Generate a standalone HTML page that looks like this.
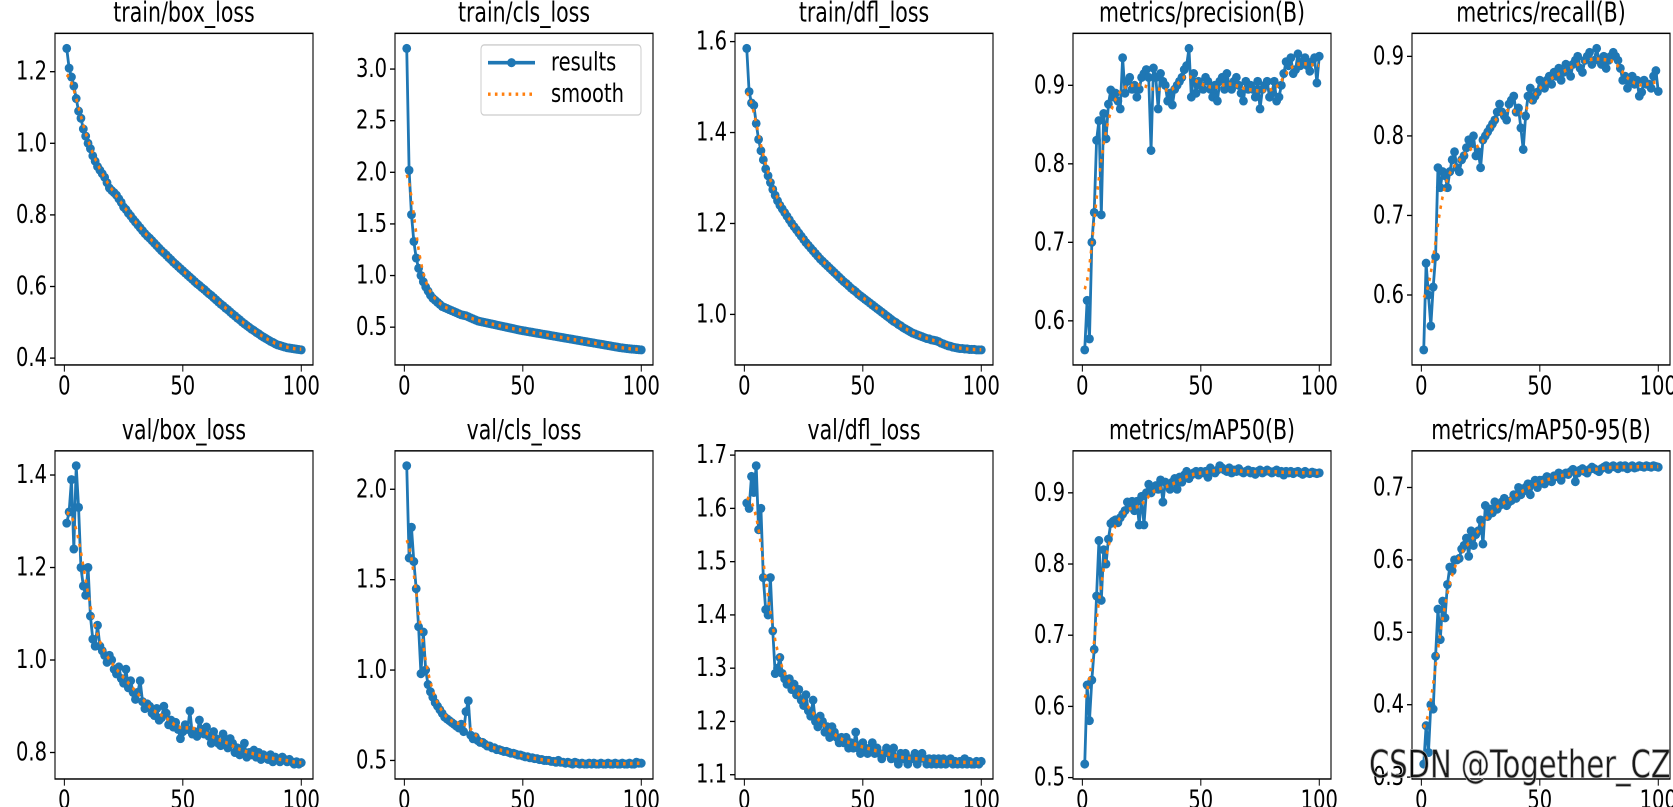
<!DOCTYPE html>
<html><head><meta charset="utf-8"><style>
html,body{margin:0;padding:0;background:#fff;}
svg{display:block;}
text{font-family:"DejaVu Sans","Liberation Sans",sans-serif;fill:#000;}
</style></head><body>
<svg id="fig" width="1673" height="807" viewBox="0 0 1673 605" preserveAspectRatio="none" xmlns="http://www.w3.org/2000/svg"></svg>
<script>
const titles=["train/box_loss","train/cls_loss","train/dfl_loss","metrics/precision(B)","metrics/recall(B)","val/box_loss","val/cls_loss","val/dfl_loss","metrics/mAP50(B)","metrics/mAP50-95(B)"];
const xTicks=[0,50,100];
const yTicks0=[0.4,0.6,0.8,1.0,1.2];
const yTicks1=[0.5,1.0,1.5,2.0,2.5,3.0];
const yTicks2=[1.0,1.2,1.4,1.6];
const yTicks3=[0.6,0.7,0.8,0.9];
const yTicks4=[0.6,0.7,0.8,0.9];
const yTicks5=[0.8,1.0,1.2,1.4];
const yTicks6=[0.5,1.0,1.5,2.0];
const yTicks7=[1.1,1.2,1.3,1.4,1.5,1.6,1.7];
const yTicks8=[0.5,0.6,0.7,0.8,0.9];
const yTicks9=[0.3,0.4,0.5,0.6,0.7];
const trainBox=[1.265,1.21,1.185,1.16,1.125,1.09,1.07,1.04,1.02,1.00,
0.985,0.965,0.95,0.935,0.925,0.915,0.905,0.89,0.875,0.868,
0.862,0.855,0.845,0.835,0.822,0.815,0.805,0.797,0.788,0.78,
0.772,0.764,0.756,0.748,0.741,0.735,0.728,0.721,0.714,0.707,
0.70,0.694,0.688,0.681,0.675,0.668,0.662,0.656,0.65,0.644,
0.638,0.632,0.626,0.62,0.614,0.608,0.603,0.597,0.592,0.586,
0.58,0.575,0.569,0.563,0.557,0.551,0.546,0.54,0.535,0.529,
0.523,0.518,0.512,0.507,0.501,0.496,0.491,0.486,0.481,0.477,
0.472,0.468,0.463,0.459,0.455,0.451,0.447,0.444,0.44,0.437,
0.435,0.433,0.431,0.429,0.428,0.427,0.426,0.425,0.424,0.423];
const trainCls=[3.2,2.02,1.59,1.33,1.17,1.07,1.0,0.94,0.89,0.85,
0.81,0.78,0.76,0.74,0.72,0.70,0.69,0.68,0.67,0.66,
0.65,0.64,0.63,0.62,0.615,0.61,0.60,0.59,0.58,0.57,
0.56,0.555,0.55,0.545,0.54,0.535,0.53,0.525,0.52,0.515,
0.51,0.505,0.50,0.495,0.49,0.485,0.48,0.475,0.47,0.466,
0.462,0.458,0.454,0.45,0.446,0.442,0.438,0.434,0.43,0.426,
0.422,0.418,0.414,0.41,0.406,0.402,0.398,0.394,0.39,0.386,
0.382,0.378,0.374,0.37,0.366,0.362,0.358,0.354,0.35,0.346,
0.342,0.338,0.334,0.33,0.326,0.322,0.318,0.314,0.31,0.306,
0.302,0.299,0.296,0.293,0.29,0.288,0.286,0.284,0.282,0.28];
const trainDfl=[1.585,1.49,1.465,1.46,1.42,1.385,1.36,1.34,1.32,1.305,
1.29,1.275,1.262,1.25,1.24,1.232,1.224,1.216,1.208,1.2,
1.193,1.186,1.179,1.172,1.165,1.158,1.152,1.146,1.14,1.134,
1.128,1.122,1.117,1.112,1.107,1.102,1.097,1.092,1.087,1.082,
1.077,1.072,1.068,1.063,1.058,1.054,1.05,1.045,1.041,1.037,
1.033,1.029,1.025,1.021,1.017,1.013,1.009,1.005,1.001,0.997,
0.993,0.989,0.985,0.982,0.978,0.975,0.971,0.968,0.965,0.962,
0.959,0.957,0.955,0.953,0.951,0.949,0.947,0.946,0.944,0.943,
0.942,0.94,0.937,0.935,0.933,0.931,0.93,0.928,0.927,0.926,
0.925,0.925,0.924,0.924,0.923,0.923,0.923,0.922,0.922,0.922];
const precision=[.563,.626,.577,.70,.738,.83,.855,.735,.864,.832,
.876,.894,.885,.89,.88,.87,.935,.89,.905,.91,
.895,.9,.885,.895,.91,.915,.92,.91,.817,.922,
.91,.87,.915,.905,.9,.88,.89,.875,.895,.9,
.905,.91,.92,.925,.947,.885,.915,.89,.905,.9,
.895,.91,.905,.895,.885,.9,.88,.905,.91,.895,
.915,.9,.895,.905,.91,.9,.89,.88,.905,.895,
.9,.895,.885,.905,.87,.895,.9,.905,.885,.89,
.905,.88,.885,.9,.915,.93,.925,.935,.915,.92,
.94,.925,.93,.935,.925,.918,.93,.935,.903,.937];
const recall=[.531,.64,.60,.561,.61,.648,.76,.735,.755,.75,
.735,.755,.77,.78,.76,.755,.77,.775,.785,.795,
.79,.80,.775,.78,.76,.795,.80,.805,.81,.815,
.82,.83,.84,.83,.825,.82,.84,.845,.85,.83,
.835,.81,.783,.825,.85,.86,.845,.85,.855,.87,
.865,.86,.87,.875,.865,.88,.875,.885,.87,.88,
.89,.885,.875,.89,.895,.9,.885,.88,.895,.9,
.905,.89,.895,.91,.895,.89,.9,.885,.895,.9,
.905,.9,.895,.885,.87,.875,.86,.87,.875,.865,
.87,.85,.855,.87,.865,.865,.86,.875,.882,.856];
const valBox=[1.296,1.32,1.39,1.24,1.42,1.33,1.2,1.16,1.14,1.2,
1.095,1.045,1.03,1.075,1.03,1.02,1.01,0.995,1.01,1.0,
0.98,0.97,0.985,0.96,0.95,0.98,0.94,0.955,0.93,0.915,
0.93,0.955,0.91,0.895,0.905,0.9,0.885,0.88,0.895,0.87,
0.875,0.9,0.885,0.86,0.87,0.855,0.865,0.85,0.83,0.845,
0.86,0.85,0.89,0.84,0.845,0.835,0.87,0.85,0.84,0.855,
0.835,0.82,0.845,0.83,0.82,0.815,0.84,0.825,0.81,0.83,
0.82,0.8,0.81,0.795,0.805,0.82,0.79,0.8,0.795,0.805,
0.79,0.8,0.785,0.795,0.79,0.785,0.795,0.78,0.79,0.785,
0.78,0.79,0.785,0.78,0.785,0.78,0.775,0.78,0.775,0.778];
const valCls=[2.13,1.62,1.79,1.6,1.45,1.24,0.98,1.21,1.0,0.92,
0.88,0.85,0.82,0.8,0.78,0.76,0.74,0.73,0.72,0.71,
0.7,0.69,0.68,0.7,0.66,0.77,0.83,0.64,0.62,0.63,
0.61,0.6,0.6,0.59,0.58,0.58,0.57,0.57,0.56,0.56,
0.555,0.55,0.55,0.545,0.54,0.54,0.535,0.53,0.53,0.525,
0.52,0.52,0.515,0.515,0.51,0.51,0.505,0.505,0.5,0.5,
0.5,0.495,0.495,0.49,0.5,0.49,0.49,0.485,0.49,0.485,
0.48,0.49,0.485,0.48,0.485,0.48,0.48,0.485,0.48,0.485,
0.48,0.48,0.485,0.48,0.48,0.485,0.48,0.48,0.485,0.48,
0.48,0.485,0.48,0.48,0.485,0.48,0.48,0.49,0.485,0.485];
const valDfl=[1.61,1.6,1.66,1.63,1.68,1.56,1.6,1.47,1.41,1.4,
1.47,1.37,1.29,1.3,1.32,1.29,1.28,1.27,1.28,1.26,
1.27,1.25,1.26,1.24,1.23,1.25,1.22,1.21,1.24,1.2,
1.19,1.21,1.2,1.18,1.19,1.17,1.19,1.18,1.17,1.16,
1.17,1.16,1.17,1.15,1.16,1.15,1.18,1.15,1.14,1.16,
1.15,1.14,1.15,1.16,1.14,1.15,1.14,1.13,1.14,1.15,
1.14,1.13,1.15,1.13,1.12,1.14,1.13,1.14,1.12,1.13,
1.13,1.14,1.12,1.13,1.14,1.13,1.12,1.13,1.12,1.13,
1.12,1.13,1.12,1.13,1.12,1.125,1.13,1.12,1.125,1.12,
1.125,1.12,1.13,1.12,1.125,1.12,1.12,1.125,1.12,1.125];
const map50=[.519,.63,.58,.637,.68,.755,.833,.749,.82,.80,
.835,.857,.86,.862,.858,.865,.87,.875,.887,.88,
.888,.875,.888,.855,.895,.855,.9,.912,.9,.905,
.91,.905,.918,.887,.915,.91,.905,.915,.92,.905,
.922,.915,.925,.93,.92,.925,.928,.93,.925,.93,
.928,.93,.922,.935,.93,.928,.932,.938,.935,.932,
.93,.935,.928,.932,.93,.934,.93,.928,.93,.932,
.928,.93,.926,.93,.932,.928,.93,.932,.93,.928,
.93,.932,.928,.93,.925,.93,.928,.93,.927,.929,
.93,.928,.926,.93,.928,.927,.929,.928,.927,.928];
const map5095=[.318,.371,.334,.40,.394,.467,.532,.49,.543,.52,
.566,.59,.585,.6,.6,.602,.615,.62,.63,.605,
.64,.62,.635,.64,.655,.622,.675,.66,.67,.665,
.68,.67,.675,.68,.685,.675,.68,.682,.69,.685,
.70,.69,.695,.70,.705,.69,.705,.71,.70,.71,
.71,.705,.715,.712,.708,.716,.715,.72,.71,.718,
.72,.718,.722,.725,.708,.72,.724,.726,.722,.72,
.725,.728,.726,.724,.722,.726,.728,.73,.725,.728,
.73,.728,.726,.73,.728,.73,.726,.728,.73,.727,
.728,.73,.729,.728,.73,.729,.728,.73,.729,.728];

const series=[trainBox,trainCls,trainDfl,precision,recall,valBox,valCls,valDfl,map50,map5095];
const ticksets=[yTicks0,yTicks1,yTicks2,yTicks3,yTicks4,yTicks5,yTicks6,yTicks7,yTicks8,yTicks9];
const slugs=["train-box-loss","train-cls-loss","train-dfl-loss","precision","recall","val-box-loss","val-cls-loss","val-dfl-loss","map50","map50-95"];

const NS="http://www.w3.org/2000/svg";
const svg=document.getElementById('fig');
function mk(tag,attrs,parent){const e=document.createElementNS(NS,tag);for(const k in attrs)e.setAttribute(k,attrs[k]);(parent||svg).appendChild(e);return e;}
function smooth(y,sigma){const r=Math.round(4*sigma),n=y.length,out=[];const w=[];let s=0;for(let k=-r;k<=r;k++){const v=Math.exp(-k*k/(2*sigma*sigma));w.push(v);s+=v;}
 for(let i=0;i<n;i++){let a=0;for(let k=-r;k<=r;k++){let j=i+k;while(j<0||j>=n){if(j<0)j=-j-1;if(j>=n)j=2*n-j-1;}a+=w[k+r]*y[j];}out.push(a/s);}return out;}

const lefts=[55,395,735,1073,1412],W=258;
const tops=[25,338],bottoms=[273.6,584];
series.forEach((ys,idx)=>{
 const col=idx%5,row=Math.floor(idx/5);
 const L=lefts[col],R=L+W,T=tops[row],B=bottoms[row];
 const n=ys.length,xs=ys.map((_,i)=>i+1);
 const x0=1-0.05*(n-1),x1=n+0.05*(n-1);
 const mn=Math.min(...ys),mx=Math.max(...ys),sp=mx-mn;
 const y0=mn-0.05*sp,y1=mx+0.05*sp;
 const X=v=>L+(v-x0)/(x1-x0)*W;
 const Y=v=>B-(v-y0)/(y1-y0)*(B-T);
 const g=mk('g',{});
 
 
 const t=mk('text',{x:(L+R)/2,y:T-9,'text-anchor':'middle','font-size':20.5},g);
 t.textContent=titles[idx];
 
 
 const d=xs.map((x,i)=>(i?'L':'M')+X(x).toFixed(2)+' '+Y(ys[i]).toFixed(2)).join(' ');
 const ln=mk('path',{d:d,fill:'none',stroke:'#1f77b4','stroke-width':2.8,'stroke-linejoin':'round'},g);
 
 
 xs.forEach((x,i)=>{const c=mk('ellipse',{cx:X(x),cy:Y(ys[i]),rx:4.4,ry:3.4,fill:'#1f77b4'},g);
  
  });
 const sm=smooth(ys,3);
 const d2=xs.map((x,i)=>(i?'L':'M')+X(x).toFixed(2)+' '+Y(sm[i]).toFixed(2)).join(' ');
 const sl=mk('path',{d:d2,fill:'none',stroke:'#ff7f0e','stroke-width':2.6,'stroke-dasharray':'2.6 4.3'},g);
 
 
 const fr=mk('rect',{x:L,y:T,width:W,height:B-T,fill:'none',stroke:'#000','stroke-width':1.1},g);
 
 
 xTicks.forEach(v=>{const px=X(v);mk('line',{x1:px,x2:px,y1:B,y2:B+5,stroke:'#000','stroke-width':1},g);
  const tl=mk('text',{x:px,y:B+22,'text-anchor':'middle','font-size':19.5},g);tl.textContent=v;
  
  });
 ticksets[idx].forEach(v=>{const py=Y(v);if(py<T-1||py>B+1)return;mk('line',{x1:L-5,x2:L,y1:py,y2:py,stroke:'#000','stroke-width':1},g);
  const tl=mk('text',{x:L-8,y:py+6,'text-anchor':'end','font-size':19.5},g);tl.textContent=v.toFixed(1);
  
  });
});
const lg=mk('g',{});


mk('rect',{x:481,y:33.7,width:160,height:52.5,rx:3,fill:'#fff','fill-opacity':0.8,stroke:'#ccc','stroke-width':1},lg);
mk('line',{x1:488,x2:535,y1:47,y2:47,stroke:'#1f77b4','stroke-width':2.8},lg);
mk('ellipse',{cx:511.5,cy:47,rx:4.4,ry:3.4,fill:'#1f77b4'},lg);
const l1=mk('text',{x:551,y:53,'font-size':19.5},lg);l1.textContent='results';


mk('line',{x1:488,x2:535,y1:70.6,y2:70.6,stroke:'#ff7f0e','stroke-width':2.6,'stroke-dasharray':'2.6 4.3'},lg);
const l2=mk('text',{x:551,y:76.6,'font-size':19.5},lg);l2.textContent='smooth';


const wm=mk('text',{x:1369,y:583,'font-size':29,fill:'#f2f2f2',stroke:'#b0b0b0','stroke-width':0.6,'fill-opacity':0.9});
wm.textContent='CSDN @Together_CZ';


</script>
</body></html>
